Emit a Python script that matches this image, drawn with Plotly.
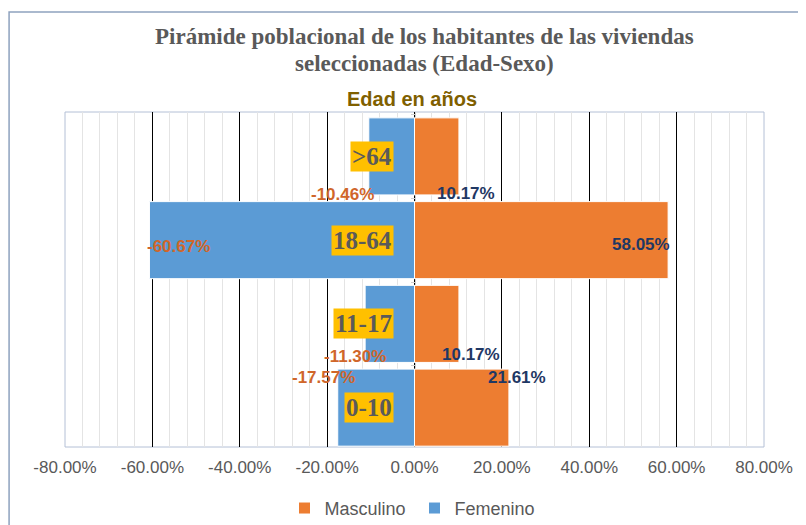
import plotly.graph_objects as go

categories = ["0-10", "11-17", "18-64", ">64"]
masculino = [21.61, 10.17, 58.05, 10.17]
femenino = [-17.57, -11.30, -60.67, -10.46]
tick_values = [-80, -60, -40, -20, 0, 20, 40, 60, 80]
tick_labels = ["-80.00%", "-60.00%", "-40.00%", "-20.00%", "0.00%", "20.00%", "40.00%", "60.00%", "80.00%"]

# label pixel offsets (style only): (xshift, yshift)
fem_offsets = [(-14, 30), (-10, -33), (29, -6), (-26, -38)]
mas_offsets = [(8, 30), (12, -31), (-27, -4), (7, -37)]

fig = go.Figure()
fig.add_trace(go.Bar(name="Masculino", y=categories, x=masculino, orientation="h",
                     marker=dict(color="#ED7D31", line=dict(color="white", width=1)),
                     width=0.92, hoverinfo="x+y"))
fig.add_trace(go.Bar(name="Femenino", y=categories, x=femenino, orientation="h",
                     marker=dict(color="#5B9BD5", line=dict(color="white", width=1)),
                     width=0.92, hoverinfo="x+y"))

ann = []
for c, v, (dx, dy) in zip(categories, femenino, fem_offsets):
    ann.append(dict(x=v, y=c, text=f"{v:.2f}%", showarrow=False, xshift=dx, yshift=dy,
                    font=dict(family="Liberation Sans", size=17, color="#D0662A", weight="bold")))
for c, v, (dx, dy) in zip(categories, masculino, mas_offsets):
    ann.append(dict(x=v, y=c, text=f"{v:.2f}%", showarrow=False, xshift=dx, yshift=dy,
                    font=dict(family="Liberation Sans", size=17, color="#1F3864", weight="bold")))
for c in categories:
    ann.append(dict(x=0, y=c, text=c, showarrow=False, xanchor="right", xshift=-21,
                    bgcolor="#FFC000", borderpad=1,
                    font=dict(family="Liberation Serif", size=25, color="#5A5A5A", weight="bold")))

ann.append(dict(xref="paper", yref="paper", x=0.515, y=1.224, yanchor="middle",
                text="Pirámide poblacional de los habitantes de las viviendas",
                showarrow=False, font=dict(family="Liberation Serif", size=23, color="#595959", weight="bold")))
ann.append(dict(xref="paper", yref="paper", x=0.515, y=1.146, yanchor="middle",
                text="seleccionadas (Edad-Sexo)",
                showarrow=False, font=dict(family="Liberation Serif", size=23, color="#595959", weight="bold")))
ann.append(dict(xref="paper", yref="paper", x=0.496, y=1.039, yanchor="middle", text="Edad en años",
                showarrow=False, font=dict(family="Liberation Sans", size=20, color="#7F6000", weight="bold")))

shapes = [
    dict(type="rect", xref="paper", yref="paper", x0=0, y0=0, x1=1, y1=1,
         line=dict(color="#B4C0D6", width=1), layer="below"),
    dict(type="rect", xref="paper", yref="paper", x0=-0.080, y0=-0.30, x1=1.10, y1=1.2985,
         line=dict(color="#8EA2BE", width=1.5), layer="below"),
]

fig.update_layout(
    width=806, height=525,
    margin=dict(l=57, r=50, t=104, b=86, autoexpand=False),
    paper_bgcolor="white", plot_bgcolor="white",
    barmode="relative",
    showlegend=True,
    legend=dict(orientation="h", x=0.5, xanchor="center", yref="container", y=0.047, yanchor="middle",
                entrywidth=85, itemwidth=30,
                font=dict(family="Liberation Sans", size=18, color="#595959")),
    annotations=ann,
    shapes=shapes,
    xaxis=dict(range=[-80, 80], tickmode="array", tickvals=tick_values, ticktext=tick_labels,
               showgrid=True, gridcolor="#000000", gridwidth=1, zeroline=False, automargin=False,
               tickfont=dict(family="Liberation Sans", size=17, color="#595959"),
               ticks="", layer="below traces", ticklabelstandoff=8,
               minor=dict(tickmode="linear", tick0=0, dtick=4, showgrid=True, gridcolor="#E4E4E4", gridwidth=1)),
    yaxis=dict(categoryorder="array", categoryarray=categories, range=[-0.47, 3.53],
               showticklabels=False, showgrid=False, zeroline=False, automargin=False,
               anchor="free", position=0.5, showline=True, linecolor="#D0D0D0",
               ticks="outside", ticklen=4, tickcolor="#D0D0D0", tickson="boundaries",
               layer="below traces"),
)

fig.write_html("out.html")
